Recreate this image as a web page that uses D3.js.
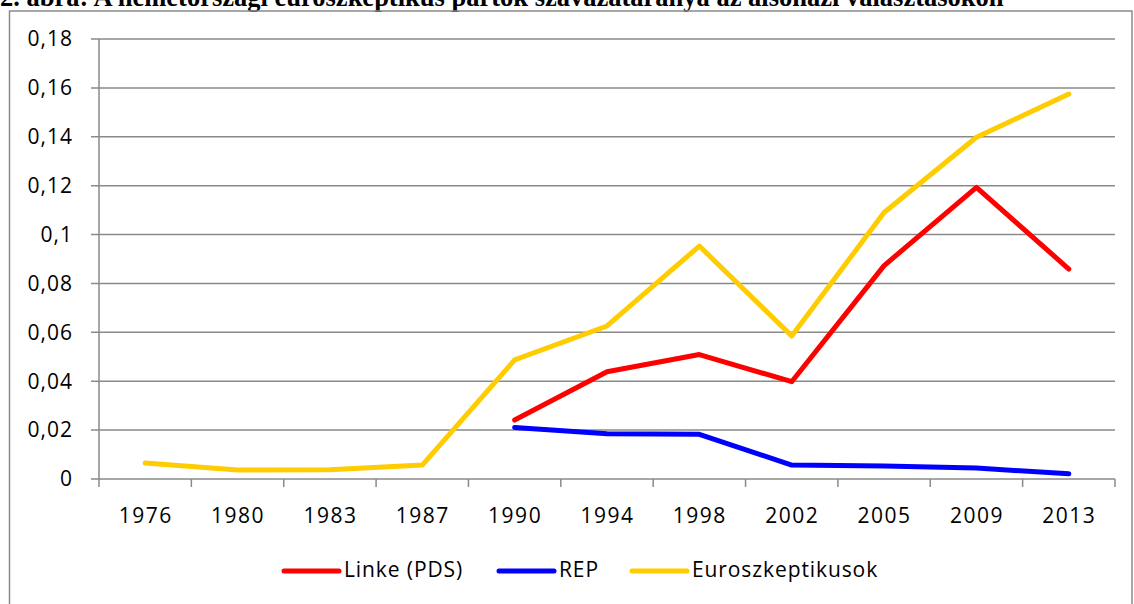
<!DOCTYPE html>
<html>
<head>
<meta charset="utf-8">
<script src="https://cdn.jsdelivr.net/npm/d3@7"></script>
<style>
  body { margin: 0; background: #fff; }
  svg { display: block; }
</style>
</head>
<body>
<div id="chart"></div>
<script>
/* global d3 */

// Data
const years = ['1976', '1980', '1983', '1987', '1990', '1994', '1998', '2002', '2005', '2009', '2013']
const linke = [null, null, null, null, 0.0241, 0.0439, 0.0509, 0.0398, 0.0873, 0.1193, 0.0859]
const rep = [null, null, null, null, 0.0211, 0.0185, 0.0183, 0.0057, 0.0053, 0.0045, 0.0021]
const euro = [0.0065, 0.0037, 0.0038, 0.0057, 0.0487, 0.0626, 0.0953, 0.0585, 0.109, 0.1398, 0.1575]
const yTicks = [0, 0.02, 0.04, 0.06, 0.08, 0.1, 0.12, 0.14, 0.16, 0.18]
const seriesNames = ['Linke (PDS)', 'REP', 'Euroszkeptikusok']
const title = '2. ábra: A németországi euroszkeptikus pártok szavazataránya az alsóházi választásokon'

// Canvas
const width = 1134,
    height = 604
const plotLeft = 99, plotRight = 1115, plotTop = 39, plotBottom = 479
const font = '"Open Sans", "Noto Sans", sans-serif'
const gridColor = '#8a8a8a'

let svg = d3.select('#chart')
    .append('svg')
    .attr('width', width)
    .attr('height', height)

// title (cut off at the top in the source)
svg.append('text')
    .attr('x', 0)
    .attr('y', 6)
    .attr('font-family', '"Liberation Serif", "Times New Roman", serif')
    .attr('font-weight', 'bold')
    .attr('font-size', 26.5)
    .attr('fill', '#000')
    .text(title)

// outer frame
svg.append('rect')
    .attr('x', 9.5)
    .attr('y', 11)
    .attr('width', 1122.5)
    .attr('height', 620)
    .attr('fill', 'none')
    .attr('stroke', gridColor)
    .attr('stroke-width', 1.5)

const x = d3.scaleBand()
    .domain(years)
    .range([plotLeft, plotRight])
    .padding(0)

const y = d3.scaleLinear()
    .domain([0, 0.18])
    .range([plotBottom, plotTop])

const fmt = (d) => String(+d.toFixed(2)).replace('.', ',')

// gridlines
svg.append('g')
    .selectAll('line')
    .data(yTicks)
    .enter()
    .append('line')
    .attr('x1', plotLeft - 8)
    .attr('x2', plotRight)
    .attr('y1', (d) => y(d))
    .attr('y2', (d) => y(d))
    .attr('stroke', gridColor)
    .attr('stroke-width', 1.5)

// y axis line
svg.append('line')
    .attr('x1', plotLeft).attr('x2', plotLeft)
    .attr('y1', plotTop).attr('y2', plotBottom)
    .attr('stroke', gridColor)
    .attr('stroke-width', 1.5)

// y labels
svg.append('g')
    .selectAll('text')
    .data(yTicks)
    .enter()
    .append('text')
    .attr('x', 73)
    .attr('y', (d) => y(d))
    .attr('dy', '0.35em')
    .attr('text-anchor', 'end')
    .attr('font-family', font)
    .attr('font-size', 21)
    .attr('letter-spacing', 1)
    .attr('fill', '#000')
    .text(fmt)

// x ticks at band edges
const edges = years.map((d) => x(d)).concat([plotRight])
svg.append('g')
    .selectAll('line')
    .data(edges)
    .enter()
    .append('line')
    .attr('x1', (d) => d)
    .attr('x2', (d) => d)
    .attr('y1', plotBottom)
    .attr('y2', plotBottom + 8)
    .attr('stroke', gridColor)
    .attr('stroke-width', 1.5)

// x labels
svg.append('g')
    .selectAll('text')
    .data(years)
    .enter()
    .append('text')
    .attr('x', (d) => x(d) + x.bandwidth() / 2 + 0.5)
    .attr('y', 523)
    .attr('text-anchor', 'middle')
    .attr('font-family', font)
    .attr('font-size', 21)
    .attr('letter-spacing', 1.5)
    .attr('fill', '#000')
    .text((d) => d)

// lines
const line = d3.line()
    .defined((d) => d != null)
    .x((d, i) => x(years[i]) + x.bandwidth() / 2)
    .y((d) => y(d))

const series = [
    { name: seriesNames[0], values: linke, color: '#ff0000' },
    { name: seriesNames[1], values: rep, color: '#0000ff' },
    { name: seriesNames[2], values: euro, color: '#ffcc00' }
]

series.forEach((s) => {
    svg.append('path')
        .datum(s.values)
        .attr('d', line)
        .attr('fill', 'none')
        .attr('stroke', s.color)
        .attr('stroke-width', 5)
        .attr('stroke-linecap', 'round')
        .attr('stroke-linejoin', 'round')
})

// legend
const legendX = [284, 499, 632]
let legend = svg.append('g')
    .selectAll('g')
    .data(series)
    .enter()
    .append('g')
    .attr('transform', (d, i) => `translate(${legendX[i]},571)`)

legend.append('line')
    .attr('x1', 0).attr('x2', 55)
    .attr('y1', 0).attr('y2', 0)
    .attr('stroke', (d) => d.color)
    .attr('stroke-width', 5)
    .attr('stroke-linecap', 'round')

legend.append('text')
    .attr('x', 60)
    .attr('y', 6)
    .attr('font-family', font)
    .attr('font-size', 21)
    .attr('letter-spacing', 0.9)
    .attr('fill', '#000')
    .text((d) => d.name)
</script>
</body>
</html>
